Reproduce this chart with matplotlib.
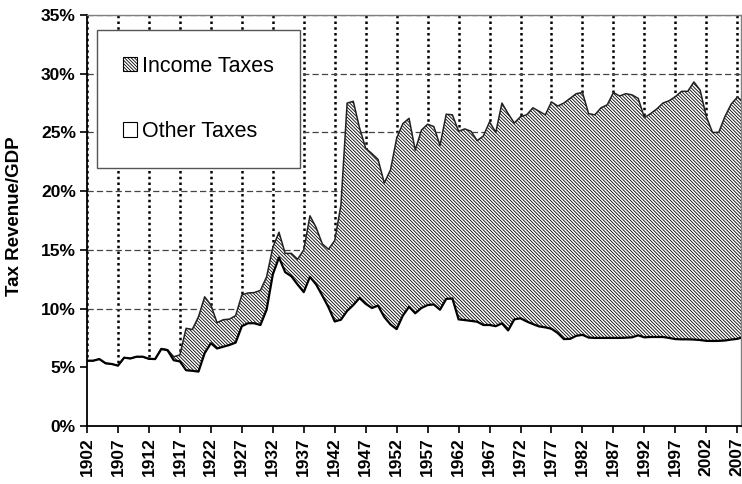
import matplotlib
matplotlib.use("Agg")
import matplotlib.pyplot as plt
from matplotlib.patches import Patch

# tax revenue as % of GDP
years = list(range(1902, 2009))

other_taxes = [
    5.56, 5.56, 5.70, 5.34, 5.28, 5.14, 5.82, 5.75, 5.90, 5.90,   # 1902-1911
    5.72, 5.70, 6.55, 6.45, 5.60, 5.50, 4.75, 4.70, 4.63, 6.20,   # 1912-1921
    7.05, 6.60, 6.75, 6.90, 7.10, 8.50, 8.75, 8.75, 8.60, 9.90,   # 1922-1931
    12.9, 14.35, 13.1, 12.75, 12.05, 11.4, 12.7, 12.05, 11.1, 10.1,  # 1932-1941
    8.90, 9.05, 9.80, 10.3, 10.9, 10.4, 10.05, 10.25, 9.28, 8.65,  # 1942-1951
    8.25, 9.40, 10.15, 9.60, 10.05, 10.3, 10.35, 9.90, 10.82, 10.86,  # 1952-1961
    9.08, 9.02, 8.95, 8.88, 8.60, 8.60, 8.50, 8.74, 8.14, 9.08,   # 1962-1971
    9.17, 8.90, 8.68, 8.48, 8.40, 8.28, 7.92, 7.40, 7.42, 7.68,   # 1972-1981
    7.76, 7.53, 7.50, 7.50, 7.50, 7.50, 7.50, 7.52, 7.55, 7.72,   # 1982-1991
    7.55, 7.58, 7.58, 7.58, 7.50, 7.40, 7.38, 7.38, 7.36, 7.32,   # 1992-2001
    7.25, 7.24, 7.25, 7.28, 7.36, 7.42, 7.58,                     # 2002-2008
]

total_taxes = [
    5.56, 5.56, 5.70, 5.34, 5.28, 5.14, 5.82, 5.75, 5.90, 5.90,   # 1902-1911
    5.72, 5.70, 6.60, 6.50, 5.90, 6.05, 8.32, 8.22, 9.30, 11.0,   # 1912-1921
    10.3, 8.80, 9.05, 9.10, 9.40, 11.16, 11.33, 11.36, 11.55, 12.7,  # 1922-1931
    15.2, 16.5, 14.7, 14.7, 14.2, 15.0, 17.9, 16.9, 15.5, 15.05,  # 1932-1941
    15.8, 18.8, 27.5, 27.65, 25.4, 23.65, 23.2, 22.7, 20.7, 21.8,  # 1942-1951
    24.5, 25.75, 26.2, 23.5, 25.2, 25.7, 25.5, 23.9, 26.55, 26.5,  # 1952-1961
    25.1, 25.3, 25.1, 24.3, 24.7, 25.9, 25.0, 27.5, 26.6, 25.8,   # 1962-1971
    26.35, 26.5, 27.1, 26.8, 26.5, 27.6, 27.25, 27.5, 27.9, 28.3,  # 1972-1981
    28.4, 26.6, 26.5, 27.1, 27.35, 28.4, 28.1, 28.3, 28.2, 27.9,  # 1982-1991
    26.26, 26.6, 27.0, 27.5, 27.7, 28.05, 28.5, 28.5, 29.3, 28.6,  # 1992-2001
    26.35, 25.0, 25.0, 26.35, 27.4, 28.0, 27.6,                   # 2002-2008
]

x_ticks = list(range(1902, 2008, 5))
y_ticks = [0, 5, 10, 15, 20, 25, 30, 35]
y_labels = ["%d%%" % v for v in y_ticks]

plt.rcParams["font.family"] = ["Liberation Sans", "DejaVu Sans"]
plt.rcParams["hatch.linewidth"] = 0.6
plt.rcParams["hatch.color"] = "black"

HATCH = "\\" * 10

fig = plt.figure(figsize=(7.42, 4.84), dpi=100)
ax = fig.add_axes([87 / 742, 1 - 426 / 484, 654 / 742, 411 / 484])

ax.fill_between(years, 0, other_taxes, facecolor="white", edgecolor="none", zorder=2)
ax.fill_between(years, other_taxes, total_taxes, facecolor="white", edgecolor="black",
                hatch=HATCH, linewidth=0, zorder=2)
ax.plot(years, total_taxes, color="#222222", lw=1.1, zorder=3)
ax.plot(years, other_taxes, color="black", lw=1.6, zorder=3)

ax.set_xlim(1902, 2007.6)
ax.set_ylim(0, 35)

ax.set_axisbelow(True)
ax.xaxis.grid(True, color="black", linestyle=(0, (1, 1.3)), linewidth=1.8)
ax.yaxis.grid(True, color="#444444", linestyle=(0, (5, 2.5)), linewidth=0.9)

ax.set_xticks(x_ticks)
ax.set_xticklabels([str(y) for y in x_ticks], rotation=90, fontweight="bold", fontsize=12.5)
ax.set_yticks(y_ticks)
ax.set_yticklabels(y_labels, fontweight="bold", fontsize=12.5)
ax.tick_params(direction="out", length=5, width=1.2, pad=3)

for side in ["left", "bottom"]:
    ax.spines[side].set_color("black")
    ax.spines[side].set_linewidth(1.3)
for side in ["top", "right"]:
    ax.spines[side].set_color("#808080")
    ax.spines[side].set_linewidth(1.0)

ax.set_ylabel("Tax Revenue/GDP", fontsize=13.5, fontweight="bold")
ax.yaxis.set_label_coords(-0.098, 0.51)

handles = [
    Patch(facecolor="white", edgecolor="black", hatch=HATCH, lw=0.8, label="Income Taxes"),
    Patch(facecolor="white", edgecolor="black", lw=0.8, label="Other Taxes"),
]
leg = ax.legend(handles=handles, loc="upper left", bbox_to_anchor=(0.0153, 0.9635),
                borderaxespad=0, fontsize=15.5, frameon=True, fancybox=False,
                framealpha=1, handlelength=0.65, handleheight=0.65, handletextpad=0.25,
                labelspacing=2.05, borderpad=1.2)
leg.get_frame().set_edgecolor("#555555")
leg.get_frame().set_linewidth(1.0)
leg.set_zorder(5)

fig.savefig("out.png", dpi=100)
